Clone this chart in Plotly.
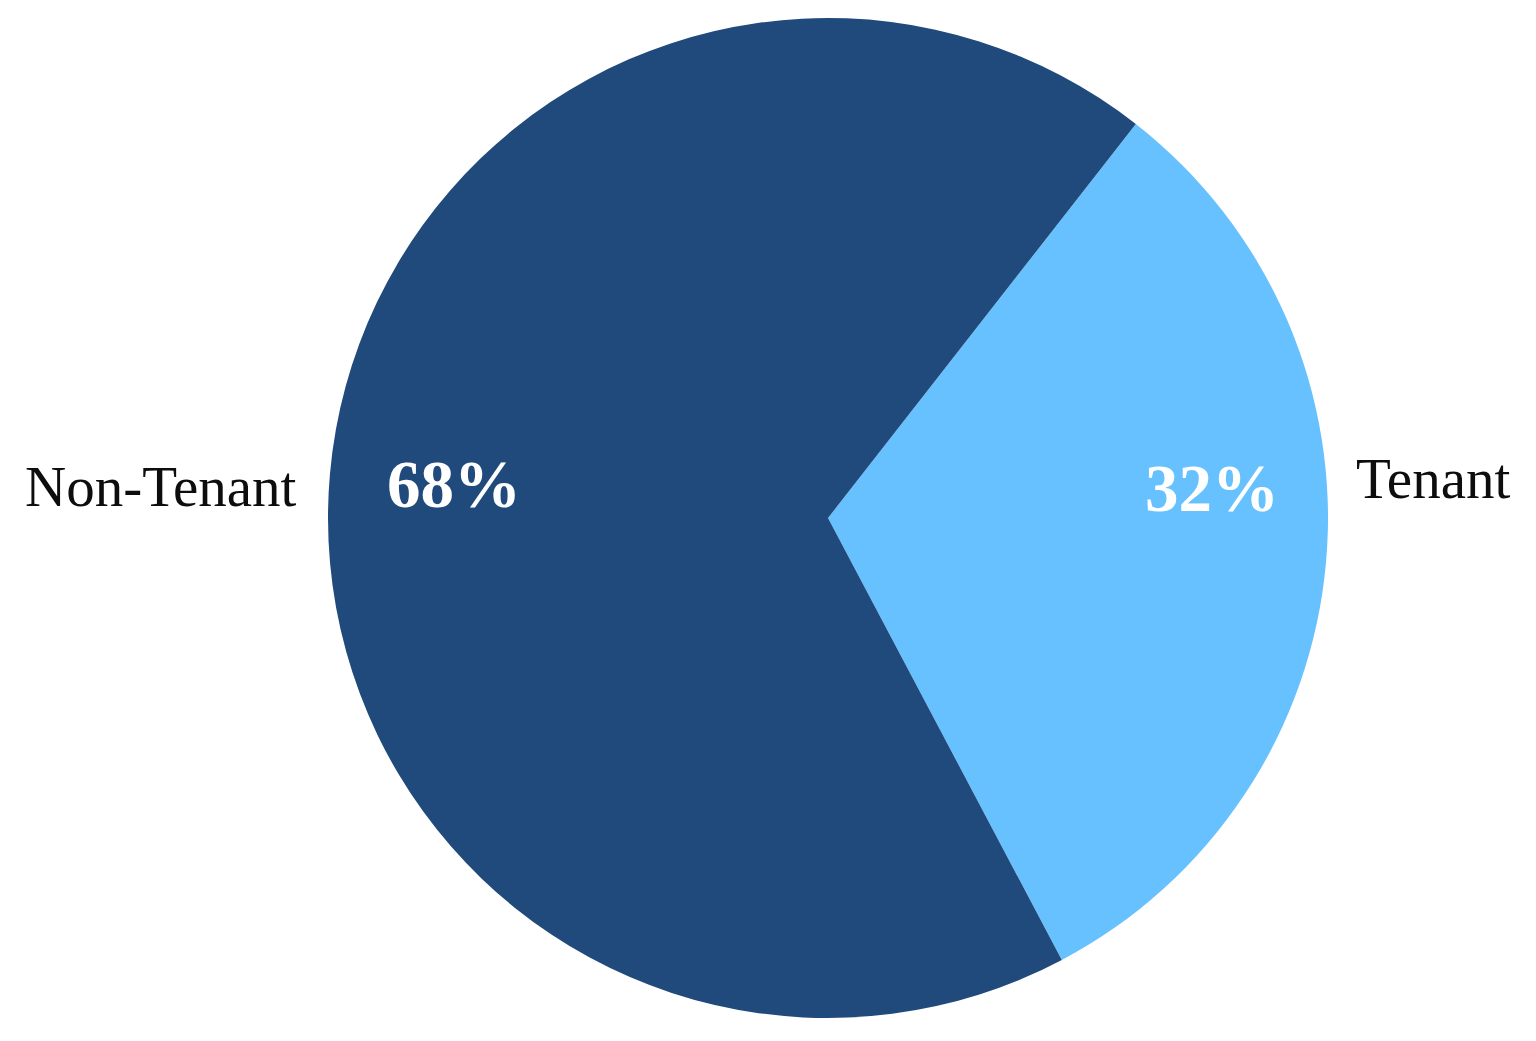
import plotly.graph_objects as go

labels = ["Tenant", "Non-Tenant"]
values = [31.7, 68.3]
colors = ["#66C1FE", "#204A7C"]

W, H = 1536, 1041
OFF = 8  # page body margin
def px(x):
    return (x - OFF) / W
def py(y):
    return 1 - (y - OFF) / H

dom = dict(x=[px(328), px(1328)], y=[py(1018), py(18)])

fig = go.Figure()
fig.add_trace(go.Pie(
    labels=labels, values=values, sort=False, direction="clockwise", rotation=38,
    marker=dict(colors=colors, line=dict(width=0)),
    textinfo="none",
    domain=dom, showlegend=False, hoverinfo="label+percent",
))

total = sum(values)
pct_text = [f"<b>{round(v / total * 100)}%</b>" for v in values]
# label positions (pixel centres in the reference)
pct_pos = [(1212, 488), (454, 484)]
name_pos = [(1433, 478), (161, 487)]

for lab, t, (x1, y1), (x2, y2) in zip(labels, pct_text, pct_pos, name_pos):
    fig.add_annotation(x=px(x1), y=py(y1), xref="paper", yref="paper", text=t,
                       showarrow=False, xanchor="center", yanchor="middle",
                       font=dict(family="Liberation Serif", size=67, color="white"))
    fig.add_annotation(x=px(x2), y=py(y2), xref="paper", yref="paper", text=lab,
                       showarrow=False, xanchor="center", yanchor="middle",
                       font=dict(family="Liberation Serif", size=57, color="#0d0d0d"))

fig.update_layout(width=W, height=H, margin=dict(l=0, r=0, t=0, b=0),
                  paper_bgcolor="white", plot_bgcolor="white")
fig.write_html("out.html")
